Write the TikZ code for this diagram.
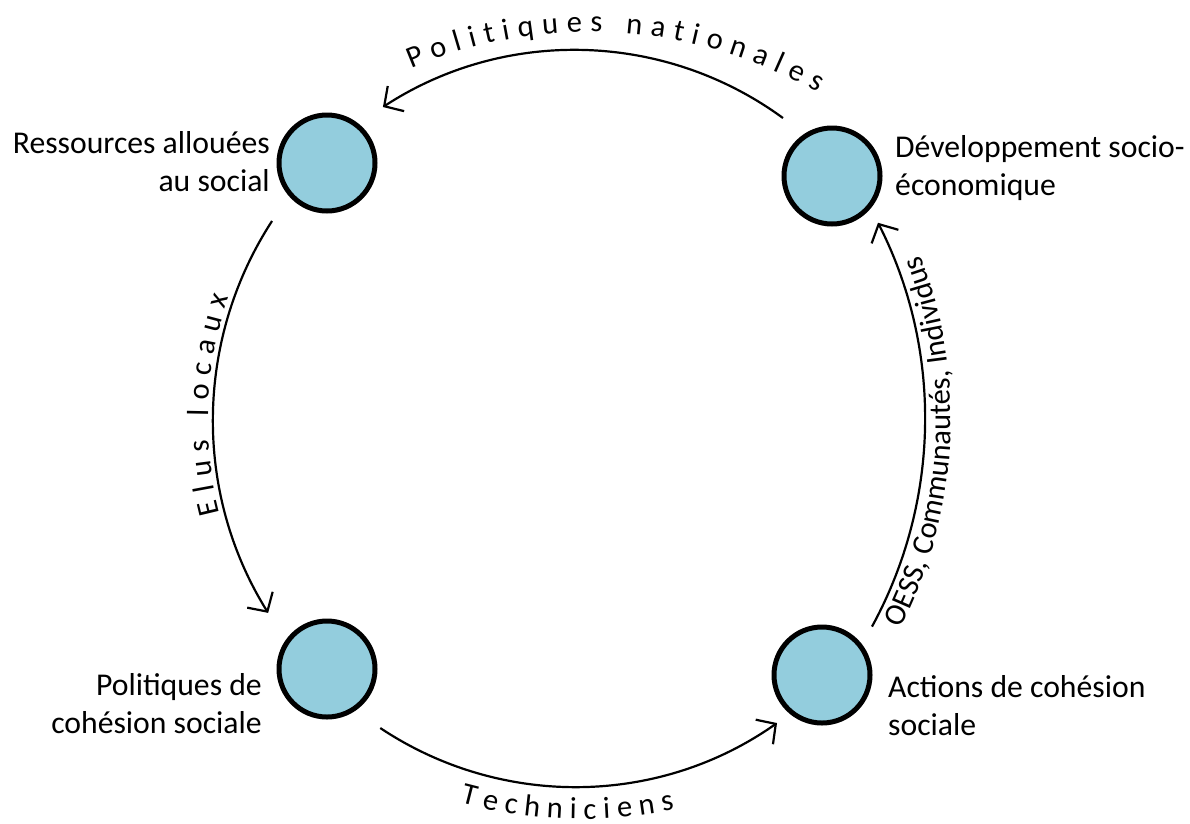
\documentclass[tikz,border=0pt]{standalone}
\usepackage{fontspec}
\setmainfont{Carlito}
\usetikzlibrary{arrows.meta,decorations.text,calc}
\definecolor{ballblue}{RGB}{147,205,221}
\begin{document}
\begin{tikzpicture}[x=1pt,y=-1pt,
  ball/.style={circle,draw=black,line width=5pt,fill=ballblue,minimum size=96pt,inner sep=0pt},
  lbl/.style={font=\fontsize{31.7}{38.5}\selectfont,inner sep=0pt},
  flow/.style={line width=2.2pt,-{Straight Barb[length=14pt,width=30pt]}},
  fittext/.style={decorate,decoration={text along path,text={|\fontsize{30.5}{36}\selectfont|#1},text align=fit to path}},
  centertext/.style={decorate,decoration={text along path,text={|\fontsize{30.5}{36}\selectfont|#1},text align=center}}
]
\useasboundingbox (0,0) rectangle (1190,823);

% circles
\node[ball] (c1) at (327,163) {};
\node[ball] (c2) at (832,176) {};
\node[ball] (c3) at (327,669) {};
\node[ball] (c4) at (822,675) {};

% labels (anchor base = baseline of the last line)
\node[lbl,align=right,anchor=base east] (l1) at (270,191.5) {Ressources allouées\\au social};
\node[lbl,align=left,anchor=base west] (l2) at (895,195.5) {Développement socio-\\économique};
\node[lbl,align=right,anchor=base east] (l3) at (262,733.5) {Politiques de\\cohésion sociale};
\node[lbl,align=left,anchor=base west] (l4) at (888,735.5) {Actions de cohésion\\sociale};

% arc centres
\coordinate (ot) at (575,402);
\coordinate (ol) at (578,420);
\coordinate (ob) at (575,436);
\coordinate (or) at (492,419);

% arc end points
\coordinate (ts) at ($(ot)+(-53.78:352)$);
\coordinate (ls) at ($(ol)+(213.04:365)$);
\coordinate (bs) at ($(ob)+(123.7:351)$);
\coordinate (rs) at ($(or)+(28.65:433)$);

\draw[flow] (ts) arc[start angle=-53.78,end angle=-123.07,radius=352];
\draw[flow] (ls) arc[start angle=213.04,end angle=148.1,radius=365];
\draw[flow] (bs) arc[start angle=123.7,end angle=54.86,radius=351];
\draw[flow] (rs) arc[start angle=28.65,end angle=-26.95,radius=433];

% text along the arcs
\coordinate (tt) at ($(590,490)+(-113:458)$);
\path[fittext={Politiques nationales}] (tt) arc[start angle=-113,end angle=-60.2,radius=458];

\coordinate (lt) at ($(ol)+(165.4:370)$);
\path[fittext={Elus locaux}] (lt) arc[start angle=165.4,end angle=199.4,radius=370];

\coordinate (bt) at ($(582,355)+(105.2:464)$);
\path[fittext={Techniciens}] (bt) arc[start angle=105.2,end angle=78.5,radius=464];

\coordinate (rt) at ($(or)+(32.1:459)$);
\path[centertext={OESS, Communautés, Individus}] (rt) arc[start angle=32.1,end angle=-25.9,radius=459];
\end{tikzpicture}
\end{document}
